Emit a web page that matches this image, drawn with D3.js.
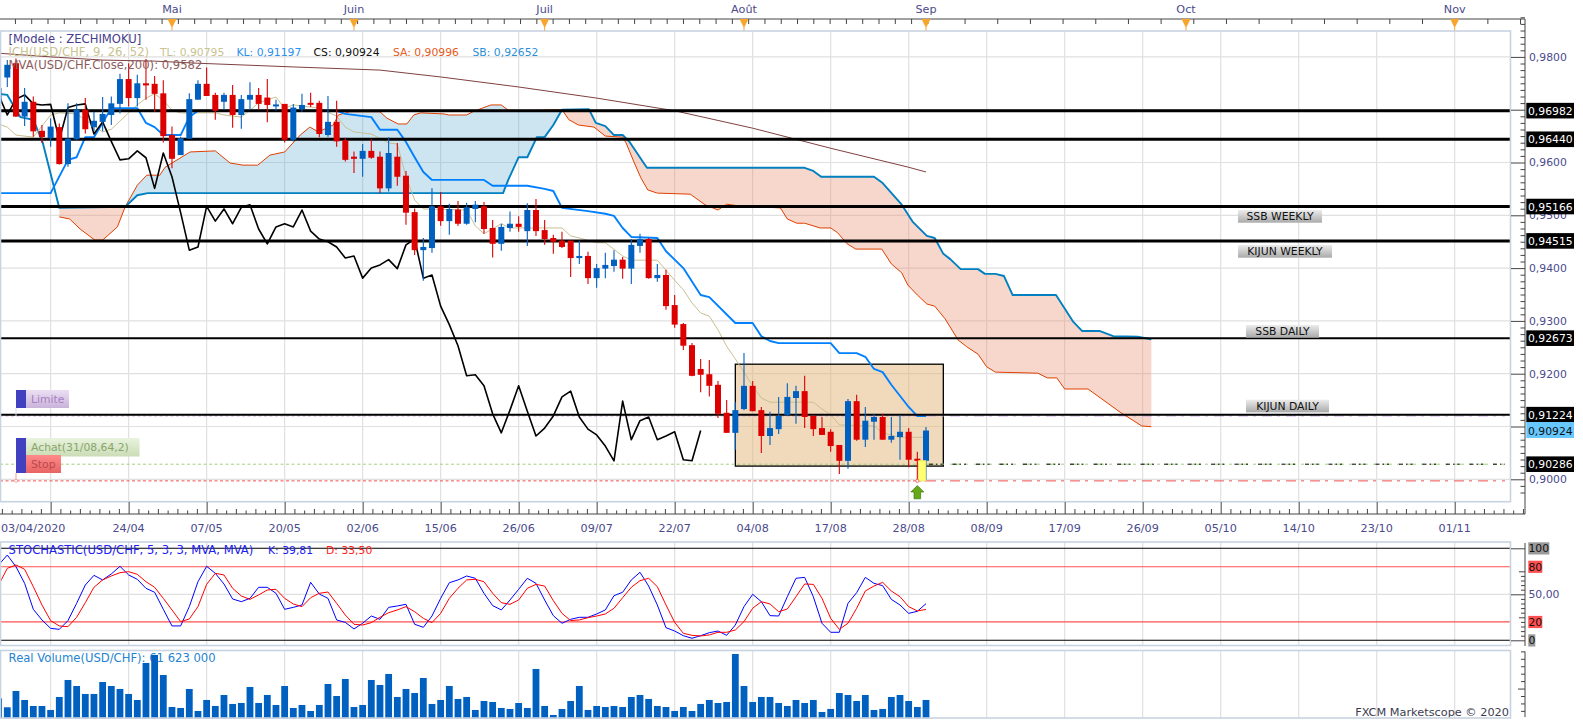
<!DOCTYPE html>
<html>
<head>
<meta charset="utf-8">
<title>USD/CHF ZECHIMOKU</title>
<script src="https://cdnjs.cloudflare.com/ajax/libs/d3/7.8.5/d3.min.js"></script>
<style>
    html, body { margin: 0; padding: 0; background: #fff; overflow: hidden; }
    text { font-family: "DejaVu Sans", sans-serif; font-size: 10.8px; }
    .tick text { fill: #4b4a8c; }
    .wide { font-size: 11.6px; }
    .dates { font-size: 11.2px; }
</style>
</head>
<body>
<div id="chart"></div>
<script>
// Candles, first value is bar -1 (cut by the left edge)
var opens = [.9712,.9761,.9788,.9687,.9715,.9660,.9646,.9667,.9597,.9644,.9700,.9667,.9677,.9690,.9711,.9758,.9722,.9750,.9749,.9731,.9652,.9614,.9645,.9719,.9749,.9728,.9715,.9728,.9690,.9719,.9728,.9723,.9709,.9711,.9643,.9701,.9713,.9713,.9652,.9677,.9642,.9611,.9607,.9622,.9611,.9551,.9611,.9575,.9506,.9434,.9438,.9517,.9489,.9511,.9484,.9512,.9517,.9476,.9446,.9476,.9484,.9470,.9510,.9472,.9457,.9452,.9452,.9419,.9423,.9381,.9399,.9404,.9416,.9399,.9442,.9455,.9381,.9387,.9330,.9294,.9254,.9209,.9199,.9179,.9126,.9088,.9133,.9177,.9131,.9082,.9095,.9122,.9154,.9167,.9120,.9097,.9090,.9065,.9035,.9148,.9075,.9109,.9118,.9075,.9080,.9090,.9039,.9035];
var highs = [.9741,.9794,.9797,.9741,.9725,.9671,.9684,.9674,.9712,.9712,.9722,.9696,.9724,.9725,.9768,.9788,.9766,.9796,.9764,.9756,.9668,.9649,.9731,.9756,.9780,.9732,.9732,.9747,.9728,.9752,.9741,.9758,.9719,.9711,.9711,.9730,.9732,.9717,.9726,.9717,.9647,.9621,.9635,.9644,.9621,.9648,.9637,.9584,.9513,.9457,.9551,.9544,.9522,.9527,.9524,.9527,.9525,.9491,.9484,.9507,.9498,.9523,.9531,.9491,.9463,.9469,.9452,.9452,.9431,.9408,.9429,.9434,.9421,.9455,.9465,.9457,.9408,.9397,.9349,.9296,.9258,.9228,.9226,.9186,.9150,.9146,.9239,.9186,.9137,.9128,.9156,.9182,.9177,.9196,.9122,.9118,.9095,.9065,.9152,.9160,.9137,.9124,.9124,.9118,.9122,.9097,.9052,.9099];
var lows = [.9712,.9743,.9686,.9669,.9649,.9637,.9630,.9596,.9592,.9643,.9655,.9659,.9659,.9671,.9693,.9706,.9706,.9719,.9696,.9638,.9589,.9614,.9645,.9719,.9726,.9681,.9700,.9666,.9664,.9700,.9700,.9676,.9698,.9638,.9640,.9696,.9705,.9648,.9649,.9630,.9602,.9580,.9573,.9607,.9542,.9545,.9556,.9482,.9425,.9376,.9429,.9480,.9463,.9480,.9482,.9487,.9465,.9420,.9433,.9469,.9469,.9442,.9461,.9444,.9427,.9438,.9383,.9408,.9370,.9363,.9381,.9393,.9380,.9370,.9429,.9380,.9374,.9321,.9287,.9245,.9195,.9165,.9157,.9116,.9088,.9056,.9131,.9129,.9050,.9065,.9086,.9120,.9105,.9097,.9082,.9084,.9052,.9010,.9020,.9073,.9061,.9075,.9075,.9069,.9037,.9023,.8999,.8999];
var closes = [.9741,.9785,.9687,.9715,.9659,.9648,.9668,.9597,.9645,.9700,.9663,.9679,.9692,.9712,.9758,.9722,.9750,.9746,.9730,.9650,.9607,.9646,.9720,.9749,.9726,.9698,.9728,.9690,.9720,.9728,.9711,.9709,.9710,.9643,.9704,.9709,.9711,.9654,.9677,.9640,.9605,.9607,.9622,.9609,.9551,.9618,.9573,.9505,.9434,.9440,.9517,.9489,.9512,.9484,.9515,.9520,.9474,.9446,.9478,.9484,.9478,.9510,.9470,.9455,.9450,.9440,.9419,.9423,.9381,.9400,.9406,.9416,.9399,.9444,.9455,.9381,.9387,.9328,.9293,.9253,.9196,.9198,.9177,.9124,.9088,.9131,.9177,.9129,.9082,.9097,.9120,.9156,.9167,.9118,.9095,.9084,.9063,.9035,.9148,.9075,.9111,.9118,.9075,.9082,.9090,.9037,.9035,.90924];

// Chikou, one value per bar from bar -1 to bar 80
var chikou = [.9728,.9690,.9720,.9728,.9711,.9709,.9710,.9643,.9704,.9709,.9711,.9654,.9677,.9640,.9605,.9607,.9622,.9609,.9551,.9618,.9573,.9505,.9434,.9440,.9517,.9489,.9512,.9484,.9515,.9520,.9474,.9446,.9478,.9484,.9478,.9510,.9470,.9455,.9450,.9440,.9419,.9423,.9381,.9400,.9406,.9416,.9399,.9444,.9455,.9381,.9387,.9328,.9293,.9253,.9196,.9198,.9177,.9124,.9088,.9131,.9177,.9129,.9082,.9097,.9120,.9156,.9167,.9118,.9095,.9084,.9063,.9035,.9148,.9075,.9111,.9118,.9075,.9082,.9090,.9037,.9035,.90924];

// Ichimoku lines, read at the bars where they change direction
var tenkanBars = [-1,0,1,3,4,5,6,8,11,12,14,15,16,17,18,19,20,24,25,27,28,29,31,32,33,36,38,39,40,42,44,45,46,47,48,53,54,55,57,58,64,65,66,68,69,71,72,75,76,77,78,79,80,81,82,83,84,85,86,87,88,93,94,95,96,100,101,103,106];
var tenkanVals = [.9673,.9667,.9652,.9648,.9669,.9690,.9694,.9692,.9658,.9663,.9694,.9709,.9722,.9730,.9718,.9699,.9694,.9694,.9690,.9686,.9699,.9713,.9724,.9703,.9709,.9703,.9688,.9667,.9658,.9654,.9637,.9635,.9573,.9529,.9512,.9510,.9480,.9465,.9484,.9476,.9476,.9461,.9457,.9448,.9448,.9423,.9415,.9415,.9396,.9377,.9359,.9334,.9315,.9309,.9283,.9252,.9228,.9203,.9177,.9154,.9146,.9146,.9133,.9122,.9103,.9101,.9088,.90795,.90795];
var kijunBars = [-1,5,7,8,9,10,12,15,16,17,18,20,21,22,38,39,42,43,45,46,47,48,49,55,56,60,62,63,64,67,69,70,71,72,75,76,78,80,81,84,86,87,88,89,95,96,98,99,100,101,102,104,105,106];
var kijunVals = [.9542,.9542,.9605,.9610,.9648,.9648,.9703,.9703,.9675,.9667,.9652,.9652,.9686,.9698,.9698,.9692,.9686,.9662,.9662,.9639,.9610,.9582,.9567,.9567,.9556,.9556,.9550,.9546,.9514,.9508,.9503,.9499,.9476,.9459,.9457,.9432,.9400,.9349,.9345,.9296,.9296,.9271,.9262,.9258,.9258,.9239,.9239,.9232,.9209,.9203,.9179,.9137,.91197,.91197];
var spanABars = [6,7.2,8.4,10.1,11,12.7,13.6,15,16.1,17.6,18.2,21.1,24,25.7,27.2,28.9,30.3,32,33.8,34.9,35.9,37.6,38.2,39.5,43,43.8,45.1,46.1,46.9,47.7,50.4,50.9,53,53.7,54.8,55.8,57,57.8,59.2,64,64.8,65.9,67.7,69,71,71.4,72.3,73.1,73.9,75,78.8,80.5,82,83,84.3,89.2,90,91.1,92,93.8,95,95.8,96.9,97.9,100.9,102,103.2,103.9,105,106.1,107,108.2,109.7,110.7,112,113,114,118.9,120,121.1,122,124.7,128.4,130.9,132];
var spanAVals = [.9497,.9493,.9474,.9453,.9453,.9478,.9516,.9557,.9576,.9576,.9591,.9620,.9622,.9599,.9595,.9595,.9614,.9620,.9652,.9667,.9658,.9671,.9690,.9696,.9696,.9684,.9673,.9673,.9690,.9694,.9692,.9690,.9690,.9696,.9703,.9709,.9709,.9699,.9698,.9700,.9681,.9671,.9667,.9650,.9648,.9637,.9601,.9571,.9548,.9542,.9540,.9520,.9510,.9521,.9518,.9514,.9493,.9485,.9485,.9476,.9476,.9467,.9446,.9436,.9436,.9408,.9391,.9368,.9349,.9332,.9328,.9304,.9264,.9251,.9237,.9213,.9203,.9201,.9192,.9192,.9171,.9171,.9127,.9101,.90996];
var spanBBars = [-1,0,1.5,3,4.1,6,13.6,15,16.2,57.2,57.8,59,60,61.1,62,63,64,67.1,67.9,69,70,71,71.8,73.8,92,93,93.9,100,101,103.2,104.5,106.1,107,108,108.8,110,112,112.8,114,115,116,121,123,124,126,127.6,130.4,132];
var spanBVals = [.9730,.9728,.9686,.9681,.9637,.9514,.9516,.9538,.9542,.9542,.9567,.9610,.9610,.9648,.9648,.9671,.9700,.9701,.9675,.9669,.9652,.9652,.9639,.9590,.9590,.9584,.9573,.9573,.9561,.9520,.9487,.9461,.9457,.9427,.9417,.9398,.9398,.9389,.9389,.9385,.9349,.9349,.9298,.9281,.9281,.9271,.9270,.92652];
var mvaBars = [-1,5,11,17,22,33,43,50,59,68,77,86,95,104,106];
var mvaVals = [.9807,.9800,.9794,.9792,.9788,.9781,.9775,.9762,.9743,.9722,.9698,.9665,.9627,.9591,.9582];

// Stochastic, one value per bar
var stochK = [81.9,92.7,80.0,61.9,33.7,22.1,13.0,11.9,21.4,40.2,60.1,70.6,65.6,72.1,80.4,71.0,66.3,56.5,52.2,33.7,15.6,15.6,36.6,63.7,80.4,72.8,61.2,44.9,42.0,45.6,57.6,57.6,51.1,33.7,35.8,38.4,63.0,50.3,45.6,22.1,19.5,12.3,18.5,26.4,22.8,35.8,37.3,39.1,17.4,14.1,26.4,45.6,62.6,65.6,69.9,67.4,51.1,37.7,33.0,43.8,55.4,67.4,61.9,43.8,26.8,18.5,22.8,25.0,25.0,28.6,33.0,48.5,52.2,65.6,73.9,59.0,38.4,13.7,10.1,5.0,2.2,5.0,8.3,10.1,5.4,16.6,36.6,50.0,42.0,26.8,26.4,47.4,67.4,68.4,47.4,18.5,8.7,8.7,40.2,51.8,68.4,61.9,59.4,44.5,38.4,29.3,31.5,39.81];
var stochD = [60.1,78.2,81.9,77.2,58.3,38.4,21.4,15.6,14.8,25.0,40.9,57.6,65.6,69.9,73.5,74.6,71.7,63.7,57.6,45.6,33.0,20.3,23.2,36.6,60.8,72.8,71.0,56.5,48.2,44.5,49.3,54.7,55.4,45.6,39.5,36.6,46.3,51.1,52.5,40.2,27.5,17.4,16.6,19.2,25.0,30.0,33.0,36.6,31.1,23.9,19.2,29.3,45.6,56.5,65.6,66.3,63.7,51.1,40.9,39.1,43.8,56.5,60.8,59.0,43.1,29.3,21.4,22.1,24.6,26.4,28.6,34.8,46.3,57.6,64.8,67.4,58.3,38.4,19.5,7.6,5.4,4.7,5.8,8.7,8.7,11.2,20.3,34.8,42.0,39.5,31.1,34.0,47.4,61.2,60.8,45.6,23.9,11.9,18.5,34.8,53.6,59.0,63.0,53.6,47.4,36.6,31.9,33.50];

// Real volume in millions, one value per bar
var volumes = [67.2,37,91.8,61.6,41.4,41.4,28,71.7,128.8,108.6,81.8,81.8,122,108.6,98.6,81.8,61.6,186,212.8,145.6,38,34.7,98.6,24.6,61.6,41.4,78.4,48.2,51.5,105.3,51.5,78.4,44.8,108.6,34.7,44.8,24.6,44.8,115.4,75,132.2,38,44.8,128.8,112,149,71.7,98.6,85,135.5,48.2,61.6,108.6,65,71.7,28,58.2,54.9,34.7,31.4,51.5,34.7,165.8,41.4,11.2,31.4,58.2,108.6,28,41.4,38,41.4,38,71.7,78.4,65,41.4,38,24.6,38,24.6,48.2,61.6,51.5,54.9,216.2,108.6,54.9,71.7,71.7,51.5,41.4,61.6,51.5,61.6,21.3,31.4,85,78.4,58.2,78.4,28,31.4,71.7,78.4,58.2,38,61.62];

// Horizontal levels and labels
var levels = [.96982,.96440,.95166,.94515,.92673,.91224];
var levelNames = ["SSB WEEKLY","KIJUN WEEKLY","SSB DAILY","KIJUN DAILY"];
var orderLimit = .9120;
var orderEntry = .90286;
var orderStop = .8997;
var lastPrice = .90924;
var boxPrices = [.9218,.9025];
var boxBars = [84,108];

// Time axis labels
var dateLabels = ["03/04/2020","24/04","07/05","20/05","02/06","15/06","26/06","09/07","22/07","04/08","17/08","28/08","08/09","17/09","26/09","05/10","14/10","23/10","01/11"];
var monthLabels = ["Mai","Juin","Juil","Août","Sep","Oct","Nov"];
var monthBars = [19,40,62,85,106,136,167];
var priceTicks = [.90,.91,.92,.93,.94,.95,.96,.97,.98];
var priceLabels = [.90,.92,.93,.94,.95,.96,.98];

var svgWidth = 1583;
var svgHeight = 720;

var svg = d3.select("#chart")
    .append("svg")
    .attr("width", svgWidth)
    .attr("height", svgHeight)
    .style("display", "block");

// Scales
var x = d3.scaleLinear().domain([-1, 106]).range([-1.37, 926]);
var yPrice = d3.scaleLinear().domain([.90, .98]).range([479.3, 56.9]);
var yStoch = d3.scaleLinear().domain([0, 100]).range([640.3, 548.3]);
var yVolume = d3.scaleLinear().domain([0, 200]).range([718.3, 658.8]);

var panelRight = 1510;
var axisX = 1525;
var panels = [[31, 501.7], [542, 645.5], [650.5, 718]];
var gridBars = d3.range(0, 19).map(d => 5 + 9 * d);

var priceLine = d3.line().x(d => x(d[0])).y(d => yPrice(d[1]));
var defs = svg.append("defs");

// Gradient for the small label boxes
function gradient(id, top, bottom) {
    var g = defs.append("linearGradient").attr("id", id).attr("x1", 0).attr("x2", 0).attr("y1", 0).attr("y2", 1);
    g.append("stop").attr("offset", "0%").attr("stop-color", top);
    g.append("stop").attr("offset", "100%").attr("stop-color", bottom);
}
gradient("grayBox", "#ececec", "#aaaaaa");
gradient("limitBox", "#ebdff3", "#c9b3da");
gradient("entryBox", "#e9f3dd", "#cbdcb6");
gradient("stopBox", "#ff8a8a", "#e86464");

// Panel backgrounds and grid
panels.forEach(function(p) {
    svg.append("g").selectAll("line")
        .data(gridBars)
        .enter()
        .append("line")
        .attr("x1", d => x(d))
        .attr("x2", d => x(d))
        .attr("y1", p[0])
        .attr("y2", p[1])
        .attr("stroke", "#e0e0e0")
        .attr("stroke-width", 1.2);
});

svg.append("g").selectAll("line")
    .data(priceTicks)
    .enter()
    .append("line")
    .attr("x1", 0)
    .attr("x2", panelRight)
    .attr("y1", d => yPrice(d))
    .attr("y2", d => yPrice(d))
    .attr("stroke", "#e0e0e0")
    .attr("stroke-width", 1.2);

svg.append("line")
    .attr("x1", 0).attr("x2", panelRight)
    .attr("y1", yStoch(50)).attr("y2", yStoch(50))
    .attr("stroke", "#e0e0e0").attr("stroke-width", 1.2);

// Kumo
var spanA = d3.zip(spanABars, spanAVals);
var spanB = d3.zip(spanBBars, spanBVals);

function kumo(from, to, color, alpha) {
    var upper = spanB.filter(d => d[0] >= from && d[0] <= to);
    var lower = spanA.filter(d => d[0] >= from && d[0] <= to).reverse();
    svg.append("path")
        .attr("d", priceLine(upper.concat(lower)) + "Z")
        .attr("fill", color)
        .attr("fill-opacity", alpha);
}
kumo(6, 13.6, "rgb(232,140,105)", .35);
kumo(13.6, 64, "rgb(90,165,210)", .3);
kumo(64, 132, "rgb(232,140,105)", .35);

// Selection box
svg.append("rect")
    .attr("x", x(boxBars[0]))
    .attr("y", yPrice(boxPrices[0]))
    .attr("width", x(boxBars[1]) - x(boxBars[0]))
    .attr("height", yPrice(boxPrices[1]) - yPrice(boxPrices[0]))
    .attr("fill", "rgb(228,180,120)")
    .attr("fill-opacity", .5)
    .attr("stroke", "#000")
    .attr("stroke-width", 1.3);

// Order lines, short dashes up to the last bar then dash-dot
function orderLine(value, color) {
    var yy = yPrice(value);
    svg.append("line")
        .attr("x1", 0).attr("x2", x(106))
        .attr("y1", yy).attr("y2", yy)
        .attr("stroke", color).attr("stroke-width", 1)
        .attr("stroke-dasharray", "3,2.5");
    svg.append("line")
        .attr("x1", x(106)).attr("x2", 1505)
        .attr("y1", yy).attr("y2", yy)
        .attr("stroke", color).attr("stroke-width", 1)
        .attr("stroke-dasharray", "10,5,3,6");
}
orderLine(orderLimit, "#cda0e6");
orderLine(orderEntry, "#a0d080");
orderLine(orderStop, "#f05050");

// Indicator lines
function addLine(data, color, width) {
    svg.append("path")
        .attr("d", priceLine(data))
        .attr("fill", "none")
        .attr("stroke", color)
        .attr("stroke-width", width)
        .attr("stroke-linejoin", "round");
}
addLine(d3.zip(mvaBars, mvaVals), "#804040", 1);
addLine(spanA, "#e04000", 1);
addLine(spanB, "#0080c0", 1.9);
addLine(d3.zip(tenkanBars, tenkanVals), "#c8c090", 1);
addLine(d3.zip(kijunBars, kijunVals), "#0080ff", 1.9);
addLine(chikou.map((d, i) => [i - 1, d]), "#000", 1.6);

// Support and resistance levels
svg.append("g").selectAll("line")
    .data(levels)
    .enter()
    .append("line")
    .attr("x1", 0)
    .attr("x2", panelRight)
    .attr("y1", d => yPrice(d))
    .attr("y2", d => yPrice(d))
    .attr("stroke", "#000")
    .attr("stroke-width", (d, i) => i < 4 ? 3 : 2);

svg.append("line")
    .attr("x1", x(106) + 3).attr("x2", 1505)
    .attr("y1", yPrice(orderEntry)).attr("y2", yPrice(orderEntry))
    .attr("stroke", "#000").attr("stroke-width", 1)
    .attr("stroke-dasharray", "4,3,1.5,3,2,10");

// Candles
var candles = closes.map(function(d, i) {
    return { bar: i - 1, open: opens[i], high: highs[i], low: lows[i], close: d };
});
var candleColor = d => d.close >= d.open ? "#0060c0" : "#dd0000";

var candleGroup = svg.append("g").selectAll("g")
    .data(candles)
    .enter()
    .append("g");

candleGroup.append("line")
    .attr("x1", d => x(d.bar))
    .attr("x2", d => x(d.bar))
    .attr("y1", d => yPrice(d.high))
    .attr("y2", d => yPrice(d.low))
    .attr("stroke", candleColor)
    .attr("stroke-width", 1.1);

candleGroup.append("rect")
    .attr("x", d => x(d.bar) - 3)
    .attr("y", d => yPrice(Math.max(d.open, d.close)))
    .attr("width", 6)
    .attr("height", d => Math.max(2, Math.abs(yPrice(d.open) - yPrice(d.close))))
    .attr("fill", candleColor);

// Order marker on the bar of 31/08
svg.append("rect")
    .attr("x", x(105) + 1)
    .attr("y", yPrice(orderEntry) - 3.5)
    .attr("width", 7.5)
    .attr("height", yPrice(orderStop) - yPrice(orderEntry) + 3.5)
    .attr("fill", "#ffff70")
    .attr("stroke", "#ece868")
    .attr("stroke-width", .8);

svg.append("circle")
    .attr("cx", x(105)).attr("cy", yPrice(orderStop)).attr("r", 1.6)
    .attr("fill", "#fff").attr("stroke", "#f05050").attr("stroke-width", .8);

var arrowX = x(105);
svg.append("path")
    .attr("d", "M" + arrowX + ",485.5 l6.5,6.5 h-3.2 v6.8 h-6.6 v-6.8 h-3.2 Z")
    .attr("fill", "#66a818")
    .attr("stroke", "#3e7a10")
    .attr("stroke-width", .7);

// Labels next to the levels
function levelLabel(name, left, width, top) {
    svg.append("rect")
        .attr("x", left).attr("y", top).attr("width", width).attr("height", 12.7)
        .attr("fill", "url(#grayBox)");
    svg.append("text")
        .attr("x", left + width / 2).attr("y", top + 10.4)
        .attr("text-anchor", "middle")
        .attr("fill", "#111")
        .text(name);
}
levelLabel(levelNames[0], 1238, 84, 210);
levelLabel(levelNames[1], 1238, 94, 245);
levelLabel(levelNames[2], 1246, 73, 325);
levelLabel(levelNames[3], 1246, 83, 399.7);

// Order tags on the left
function orderTag(name, left, width, top, height, fill, color) {
    svg.append("rect")
        .attr("x", left).attr("y", top).attr("width", width).attr("height", height)
        .attr("fill", "url(#" + fill + ")");
    svg.append("text")
        .attr("x", left + 5).attr("y", top + 13)
        .attr("fill", color)
        .text(name);
}
svg.append("line").attr("x1", 16).attr("x2", 16).attr("y1", 408).attr("y2", yPrice(orderLimit)).attr("stroke", "#e2d5ee");
svg.append("line").attr("x1", 16).attr("x2", 16).attr("y1", 473).attr("y2", yPrice(orderStop)).attr("stroke", "#f59a9a");
svg.append("circle").attr("cx", 16).attr("cy", yPrice(orderStop)).attr("r", 1.5).attr("fill", "#fff").attr("stroke", "#f59a9a").attr("stroke-width", .8);
orderTag("Limite", 26, 43, 390, 18, "limitBox", "#a87fc4");
orderTag("Achat(31/08,64,2)", 26, 113.5, 438, 18.5, "entryBox", "#86a56c");
orderTag("Stop", 26, 35, 455, 18, "stopBox", "#b84a4a");
svg.append("rect").attr("x", 16).attr("y", 390).attr("width", 10).attr("height", 18).attr("fill", "#4040c0");
svg.append("rect").attr("x", 16).attr("y", 438).attr("width", 10).attr("height", 35).attr("fill", "#4040c0");

// Stochastic panel
var stochLine = d3.line().x((d, i) => x(i - 1)).y(d => yStoch(d));

[[100, "#000"], [0, "#000"], [80, "#ff5050"], [20, "#ff5050"]].forEach(function(d) {
    svg.append("line")
        .attr("x1", 0).attr("x2", panelRight)
        .attr("y1", yStoch(d[0])).attr("y2", yStoch(d[0]))
        .attr("stroke", d[1]).attr("stroke-width", 1.1);
});

svg.append("path").attr("d", stochLine(stochK)).attr("fill", "none").attr("stroke", "#0000ff").attr("stroke-width", 1);
svg.append("path").attr("d", stochLine(stochD)).attr("fill", "none").attr("stroke", "#ff0000").attr("stroke-width", 1);

// Volume panel, the title sits under the bars
function rowText(label, left, top, color, anchor) {
    return svg.append("text")
        .attr("x", left).attr("y", top)
        .attr("fill", color)
        .attr("text-anchor", anchor || "start")
        .text(label);
}
rowText("Real Volume(USD/CHF): 61 623 000", 8.6, 662, "#2484d2").classed("wide", true);

svg.append("g").selectAll("rect")
    .data(volumes)
    .enter()
    .append("rect")
    .attr("x", (d, i) => x(i - 1) - 3.4)
    .attr("y", d => yVolume(d))
    .attr("width", 6.8)
    .attr("height", d => yVolume(0) - yVolume(d))
    .attr("fill", "#0060c0");

rowText("FXCM Marketscope © 2020", 1509, 716, "#3c3c50", "end").style("font-size", "11.3px");

// Panel borders
panels.forEach(function(p) {
    svg.append("rect")
        .attr("x", .5)
        .attr("y", p[0])
        .attr("width", panelRight)
        .attr("height", p[1] - p[0])
        .attr("fill", "none")
        .attr("stroke", "#c8d3e1")
        .attr("stroke-width", 1.6);
});

// Legends
rowText("[Modele : ZECHIMOKU]", 8.6, 43, "#483c8c").classed("wide", true);
rowText("ICH(USD/CHF, 9, 26, 52)", 8.6, 56, "#c9c391").classed("wide", true);
rowText("TL: 0,90795", 160, 56, "#c9c391");
rowText("KL: 0,91197", 236.5, 56, "#2c90f0");
rowText("CS: 0,90924", 313.5, 56, "#111");
rowText("SA: 0,90996", 393, 56, "#e85a20");
rowText("SB: 0,92652", 472.5, 56, "#2c90d8");
rowText("MVA(USD/CHF.Close,200): 0,9582", 8.6, 69, "#8c5c5c").classed("wide", true);
rowText("STOCHASTIC(USD/CHF, 5, 3, 3, MVA, MVA)", 8.6, 554, "#2020f0").classed("wide", true);
rowText("K: 39,81", 268, 554, "#2020f0");
rowText("D: 33,50", 326, 554, "#ff2020");

// Helper for tick-only axes
function tickAxis(axis, left, top, color) {
    var g = svg.append("g")
        .attr("transform", `translate(${left}, ${top})`)
        .call(axis);
    g.select(".domain").remove();
    g.selectAll("line").attr("stroke", color || "#444");
    return g;
}

// Bottom time axis
var majorBottom = gridBars;
var minorBottom = d3.range(-4, 176, 9 / 8).filter(d => (d - 5) % 9 !== 0);
tickAxis(d3.axisBottom(x).tickValues(majorBottom).tickSize(-12).tickFormat(""), 0, 514);
tickAxis(d3.axisBottom(x).tickValues(minorBottom.filter((d, i) => i % 7 % 2 === 0)).tickSize(-5).tickFormat(""), 0, 514);
tickAxis(d3.axisBottom(x).tickValues(minorBottom.filter((d, i) => i % 7 % 2 === 1)).tickSize(-3.5).tickFormat(""), 0, 514);

svg.append("line").attr("x1", 0).attr("x2", axisX).attr("y1", 514).attr("y2", 514).attr("stroke", "#444");
svg.append("line").attr("x1", 0).attr("x2", axisX).attr("y1", 19).attr("y2", 19).attr("stroke", "#444");

svg.append("g").selectAll("text")
    .data(dateLabels)
    .enter()
    .append("text")
    .classed("dates", true)
    .attr("x", (d, i) => i === 0 ? 1 : x(gridBars[i]))
    .attr("y", 532)
    .attr("text-anchor", (d, i) => i === 0 ? "start" : "middle")
    .attr("fill", "#4b4a8c")
    .text(d => d);

// Top month ruler
var topTicks = d3.range(-1, 107, 1.88).concat(d3.range(167, 107, -3.77)).concat([170.77, 174.54]);
tickAxis(d3.axisBottom(x).tickValues(topTicks).tickSize(5).tickFormat(""), 0, 19);

svg.append("g").selectAll("path")
    .data(monthBars)
    .enter()
    .append("path")
    .attr("d", d => `M${x(d) - 4.5},19 h9 l-4,8 v3.5 h-1 v-3.5 Z`)
    .attr("fill", "#f8a52e");

svg.append("g").selectAll("text")
    .data(monthLabels)
    .enter()
    .append("text")
    .classed("dates", true)
    .attr("x", (d, i) => x(monthBars[i]))
    .attr("y", 13)
    .attr("text-anchor", "middle")
    .attr("fill", "#4b4a8c")
    .text(d => d);

// Right price axis
svg.append("line").attr("x1", axisX).attr("x2", axisX).attr("y1", 19).attr("y2", 514).attr("stroke", "#444");
var priceMinor = d3.range(0, 73).map(d => .8975 + d * .00125).filter(d => Math.abs(d * 100 - Math.round(d * 100)) > .01);
tickAxis(d3.axisLeft(yPrice).tickValues(priceTicks).tickSize(14).tickFormat(""), axisX, 0);
tickAxis(d3.axisLeft(yPrice).tickValues(priceMinor).tickSize(4.5).tickFormat(""), axisX, 0);

var priceText = d3.axisRight(yPrice)
    .tickValues(priceLabels)
    .tickSize(0)
    .tickPadding(4)
    .tickFormat(d => d3.format(".4f")(d).replace(".", ","));
tickAxis(priceText, axisX, 0);

// Value boxes on the price axis
var boxedLevels = levels.concat([orderEntry]);
boxedLevels.forEach(function(d) {
    svg.append("rect")
        .attr("x", 1526.3).attr("y", yPrice(d) - 7.8).attr("width", 47.7).attr("height", 15.6)
        .attr("fill", "#000");
    svg.append("text")
        .attr("x", 1528).attr("y", yPrice(d) + 4)
        .attr("fill", "#fff")
        .text(d3.format(".5f")(d).replace(".", ","));
});
svg.append("rect")
    .attr("x", 1526.3).attr("y", yPrice(lastPrice) - 8.5).attr("width", 47.7).attr("height", 16)
    .attr("fill", "#66c8ff");
svg.append("text")
    .attr("x", 1528).attr("y", yPrice(lastPrice) + 4)
    .attr("fill", "#111")
    .text(d3.format(".5f")(lastPrice).replace(".", ","));

// Stochastic axis
svg.append("line").attr("x1", axisX).attr("x2", axisX).attr("y1", 543).attr("y2", 646).attr("stroke", "#444");
tickAxis(d3.axisLeft(yStoch).tickValues([0, 50, 100]).tickSize(14).tickFormat(""), axisX, 0);
tickAxis(d3.axisLeft(yStoch).tickValues([25, 75]).tickSize(6).tickFormat(""), axisX, 0);
tickAxis(d3.axisLeft(yStoch).tickValues([5,10,15,20,30,35,40,45,55,60,65,70]).tickSize(4).tickFormat(""), axisX, 0);

[[100, "#999999", 21, "100"], [80, "#ff5050", 14, "80"], [20, "#ff5050", 14, "20"], [0, "#999999", 7, "0"]].forEach(function(d) {
    svg.append("rect")
        .attr("x", 1528.3).attr("y", yStoch(d[0]) - 6).attr("width", d[2]).attr("height", 12.2)
        .attr("fill", d[1]);
    svg.append("text")
        .attr("x", 1528.5).attr("y", yStoch(d[0]) + 4)
        .attr("fill", "#111")
        .text(d[3]);
});
rowText("50,00", 1528.5, yStoch(50) + 4, "#4b4a8c");

// Volume axis
svg.append("line").attr("x1", axisX).attr("x2", axisX).attr("y1", 651.5).attr("y2", 717).attr("stroke", "#444");
tickAxis(d3.axisLeft(yVolume).tickValues([100]).tickSize(7).tickFormat(""), axisX, 0);
tickAxis(d3.axisLeft(yVolume).tickValues([25, 50, 75, 125, 150, 175, 200, 225]).tickSize(4).tickFormat(""), axisX, 0);
</script>
</body>
</html>
